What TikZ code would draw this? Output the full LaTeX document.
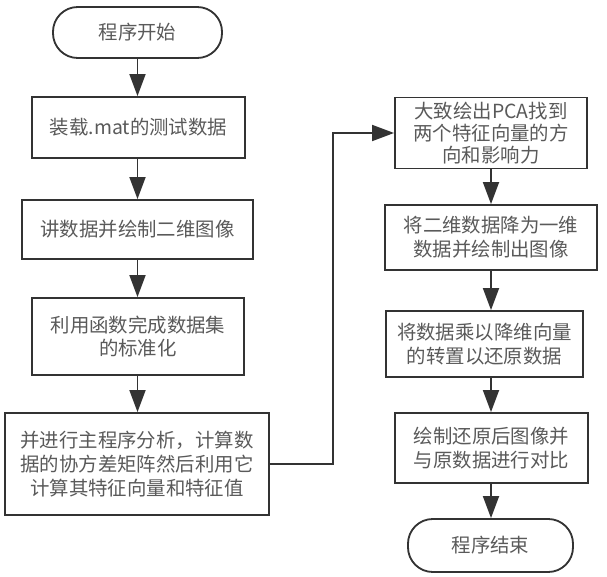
\documentclass[tikz,border=0pt]{standalone}
\usepackage{fontspec}
\setmainfont{Noto Sans CJK SC}
\usepackage{tikz}
\usetikzlibrary{arrows.meta}
\definecolor{linegray}{HTML}{333333}
\definecolor{textgray}{HTML}{5A5A5A}

\begin{document}
\begin{tikzpicture}[x=0.025cm, y=-0.025cm,
                box/.style={draw=linegray, line width=1.3pt, fill=white, align=center,
                    inner sep=0pt, text=textgray, font=\fontsize{13.8}{17}\selectfont},
                term/.style={box, rounded corners=0.62cm},
                arr/.style={draw=linegray, line width=1.3pt,
                    -{Triangle[length=0.55cm, width=0.4cm]}}]
                \useasboundingbox (0,0) rectangle (607,577);

                \node[term, minimum width=4.225cm, minimum height=1.275cm] (start) at (137.5,32.5) {程序开始};
                \node[box, minimum width=5.325cm, minimum height=1.525cm] (load) at (138.5,127.5) {装载.mat的测试数据};
                \node[box, minimum width=5.775cm, minimum height=1.475cm] (plot) at (137.5,229.5) {讲数据并绘制二维图像};
                \node[box, minimum width=5.3cm, minimum height=1.925cm] (norm) at (138,336.5) {利用函数完成数据集\\的标准化};
                \node[box, minimum width=6.6cm, minimum height=2.55cm] (pca) at (137,464)
                    {并进行主程序分析，计算数\\据的协方差矩阵然后利用它\\计算其特征向量和特征值};

                \node[box, minimum width=4.8cm, minimum height=1.775cm,
                    font=\fontsize{13.8}{15.5}\selectfont] (vec) at (491,133) {大致绘出PCA找到\\两个特征向量的方\\向和影响力};
                \node[box, minimum width=5.3cm, minimum height=1.625cm] (reduce) at (491,237.5) {将二维数据降为一维\\数据并绘制出图像};
                \node[box, minimum width=4.925cm, minimum height=1.65cm] (recover) at (484.5,344) {将数据乘以降维向量\\的转置以还原数据};
                \node[box, minimum width=4.825cm, minimum height=1.75cm] (compare) at (491.5,448) {绘制还原后图像并\\与原数据进行对比};
                \node[term, minimum width=4.125cm, minimum height=1.325cm] (stop) at (490.5,545.5) {程序结束};

                \draw[arr] (start.south) -- (start.south |- load.north);
                \draw[arr] (load.south -| start.south) -- (start.south |- plot.north);
                \draw[arr] (plot.south -| start.south) -- (start.south |- norm.north);
                \draw[arr] (norm.south -| start.south) -- (start.south |- pca.north);
                \draw[arr] (pca.east) -- ++(63,0) |- (vec.west);
                \draw[arr] (vec.south) -- (vec.south |- reduce.north);
                \draw[arr] (reduce.south) -- (vec.south |- recover.north);
                \draw[arr] (recover.south -| vec.south) -- (vec.south |- compare.north);
                \draw[arr] (compare.south -| vec.south) -- (vec.south |- stop.north);
            \end{tikzpicture}
\end{document}
